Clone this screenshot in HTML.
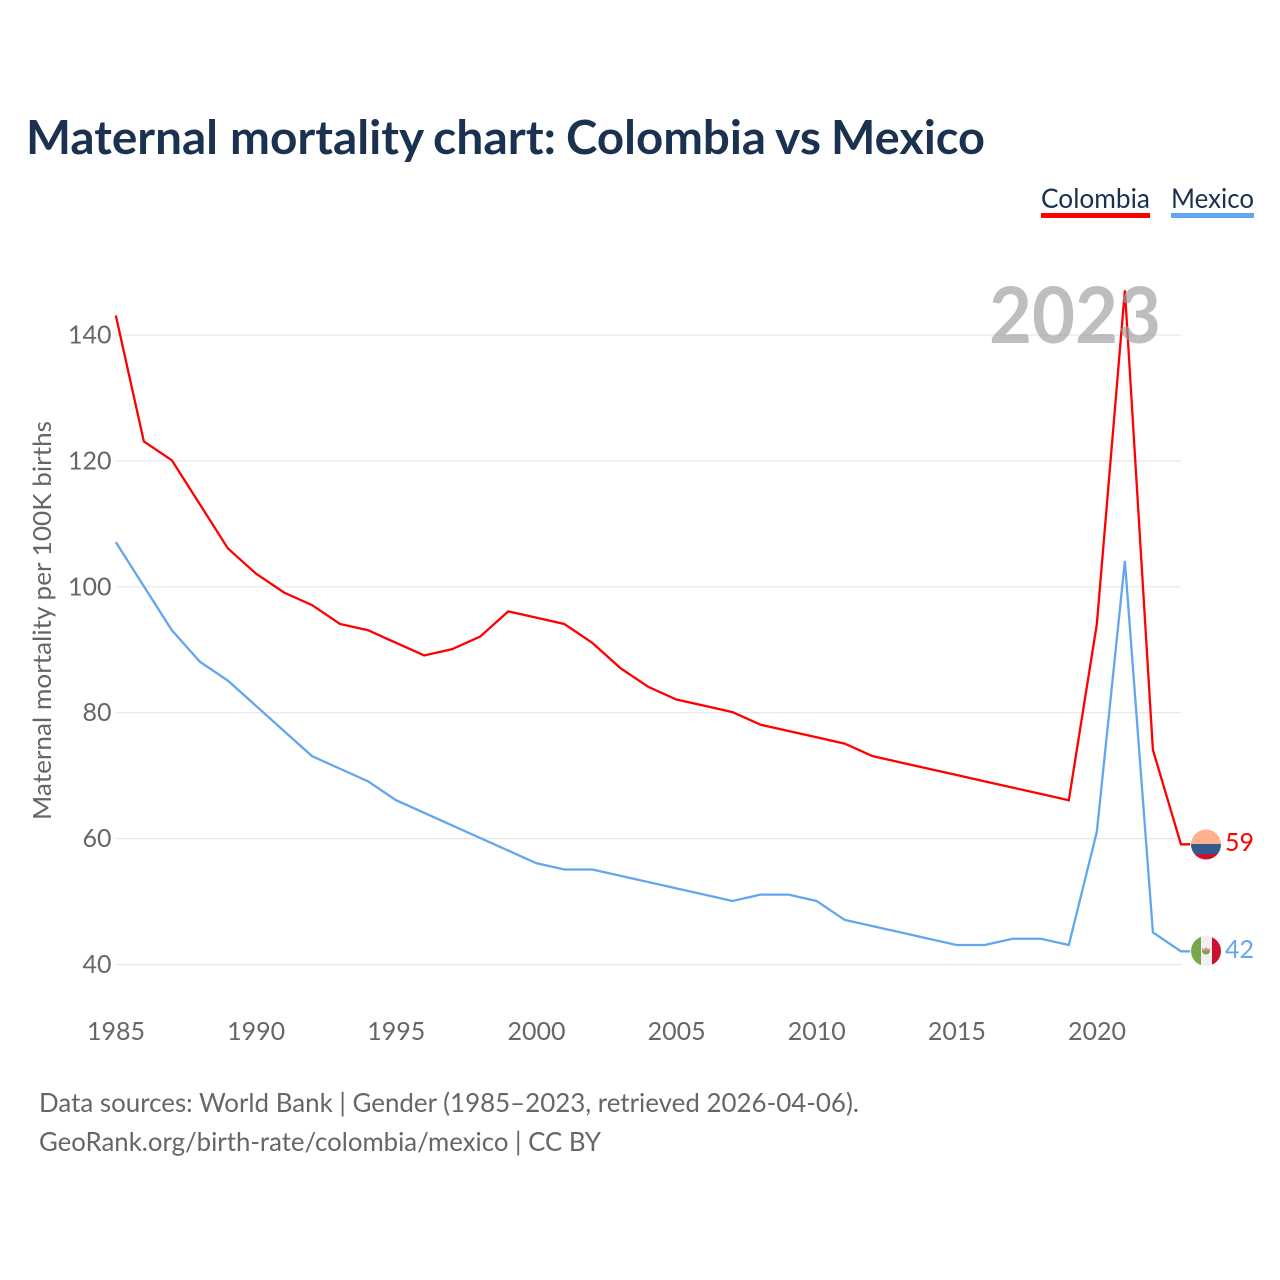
<!DOCTYPE html>
<html lang="en">
<head>
<meta charset="utf-8">
<title>Maternal mortality chart: Colombia vs Mexico</title>
<style>
html,body{margin:0;padding:0;background:#fff;width:1280px;height:1280px;overflow:hidden}
svg{display:block}
text{font-family:"Lato","Carlito","Liberation Sans",sans-serif}
</style>
</head>
<body>
<svg id="chart" width="1280" height="1280" viewBox="0 0 1280 1280" xmlns="http://www.w3.org/2000/svg">
  <defs>
    <clipPath id="clip-co"><circle cx="1206" cy="844.5" r="15"></circle></clipPath>
    <clipPath id="clip-mx"><circle cx="1206" cy="951" r="15"></circle></clipPath>
  </defs>
  <text y="154" font-size="47" font-weight="700" fill="#1a3150"><tspan x="26" textLength="192" lengthAdjust="spacingAndGlyphs">Maternal</tspan> <tspan x="230" textLength="193" lengthAdjust="spacingAndGlyphs">mortality</tspan> <tspan x="433" textLength="123" lengthAdjust="spacingAndGlyphs">chart:</tspan> <tspan x="566" textLength="200" lengthAdjust="spacingAndGlyphs">Colombia</tspan> <tspan x="775" textLength="46" lengthAdjust="spacingAndGlyphs">vs</tspan> <tspan x="831" textLength="154" lengthAdjust="spacingAndGlyphs">Mexico</tspan></text>

  <g>
    <g>
      <text x="1041" y="208" font-size="27" fill="#1a3150" textLength="109" lengthAdjust="spacingAndGlyphs">Colombia</text>
      <rect x="1041" y="213" width="109" height="5" fill="#ff0000"></rect>
    </g>
    <g>
      <text x="1171" y="208" font-size="27" fill="#1a3150" textLength="83" lengthAdjust="spacingAndGlyphs">Mexico</text>
      <rect x="1171" y="213" width="83" height="5" fill="#62a6ee"></rect>
    </g>
  </g>

  <g id="grid"></g>
  <g id="y-ticks"></g>
  <g id="x-ticks"></g>
  <text transform="translate(51,620.5) rotate(-90)" text-anchor="middle" font-size="25" fill="#666666" textLength="399" lengthAdjust="spacingAndGlyphs">Maternal mortality per 100K births</text>

  <g id="series"></g>

  <text x="989" y="343" font-size="78" font-weight="700" fill="#9a9b9d" fill-opacity="0.65" textLength="172" lengthAdjust="spacingAndGlyphs">2023</text>

  <g id="flag-colombia" clip-path="url(#clip-co)">
    <rect x="1190" y="829" width="32" height="15" fill="#ffb18f"></rect>
    <rect x="1190" y="844" width="32" height="10" fill="#36598f"></rect>
    <rect x="1190" y="854" width="32" height="8" fill="#ce1030"></rect>
  </g>
  <g id="flag-mexico" clip-path="url(#clip-mx)">
    <rect x="1190" y="935" width="11" height="32" fill="#78a84a"></rect>
    <rect x="1201" y="935" width="11" height="32" fill="#f1f1f1"></rect>
    <rect x="1212" y="935" width="10" height="32" fill="#ce1030"></rect>
    <path d="M1202 948 l2 1.5 l2 -2.5 l2 2.5 l2 -1.5 v3 h-8 z" fill="#e8836b"></path>
    <path d="M1202 951 a4 3.5 0 0 0 8 0 z" fill="#6fa35a"></path>
  </g>
  <text id="end-label-colombia" x="1225" y="851" font-size="25.5" fill="#ff0000" textLength="29" lengthAdjust="spacingAndGlyphs"></text>
  <text id="end-label-mexico" x="1225" y="958" font-size="25.5" fill="#62a6ee" textLength="29" lengthAdjust="spacingAndGlyphs"></text>

  <text x="39" y="1112" font-size="26" fill="#666666" textLength="820" lengthAdjust="spacingAndGlyphs">Data sources: World Bank | Gender (1985–2023, retrieved 2026-04-06).</text>
  <text x="39" y="1151" font-size="26" fill="#666666" textLength="562" lengthAdjust="spacingAndGlyphs">GeoRank.org/birth-rate/colombia/mexico | CC BY</text>
</svg>
<script>
const years = [1985,1986,1987,1988,1989,1990,1991,1992,1993,1994,1995,1996,1997,1998,1999,2000,2001,2002,2003,2004,2005,2006,2007,2008,2009,2010,2011,2012,2013,2014,2015,2016,2017,2018,2019,2020,2021,2022,2023];
const colombia = [143,123,120,113,106,102,99,97,94,93,91,89,90,92,96,95,94,91,87,84,82,81,80,78,77,76,75,73,72,71,70,69,68,67,66,94,147,74,59];
const mexico = [107,100,93,88,85,81,77,73,71,69,66,64,62,60,58,56,55,55,54,53,52,51,50,51,51,50,47,46,45,44,43,43,44,44,43,61,104,45,42];
const yTickValues = [40,60,80,100,120,140];
const xTickValues = [1985,1990,1995,2000,2005,2010,2015,2020];

const NS = 'http://www.w3.org/2000/svg';
function xScale(year){ return 116 + (year - 1985) * 28.03; }
function yScale(v){ return 964.5 - (v - 40) * 6.295; }
function make(tag, attrs, parent){
  const el = document.createElementNS(NS, tag);
  for (const k in attrs) el.setAttribute(k, attrs[k]);
  parent.appendChild(el);
  return el;
}

const grid = document.getElementById('grid');
const yTicks = document.getElementById('y-ticks');
const xTicks = document.getElementById('x-ticks');
const seriesGroup = document.getElementById('series');

yTickValues.forEach(function(v){
  const line = make('line', {x1:116, x2:1181, y1:yScale(v), y2:yScale(v), stroke:'#e6e6e6', 'stroke-width':1.2}, grid);
  
  
  const t = make('text', {x:111.5, y:yScale(v)+8.5, 'text-anchor':'end', 'font-size':25, fill:'#666666'}, yTicks);
  
  
  t.textContent = v;
});

xTickValues.forEach(function(y){
  const t = make('text', {x:xScale(y), y:1040, 'text-anchor':'middle', 'font-size':25, fill:'#666666'}, xTicks);
  
  
  t.textContent = y;
});

function drawSeries(values, color, name){
  const last = values.length - 1;
  const pts = values.map(function(v, i){ return (xScale(years[i]) - 0.2).toFixed(2) + ',' + (yScale(v) - 0.6).toFixed(2); });
  pts.push((xScale(years[last]) + 9).toFixed(2) + ',' + (yScale(values[last]) - 0.6).toFixed(2));
  const line = make('polyline', {points:pts.join(' '), fill:'none', stroke:color, 'stroke-width':2.3, 'stroke-linejoin':'miter'}, seriesGroup);
  
  
}
drawSeries(mexico, '#62a6ee', 'line-mexico');
drawSeries(colombia, '#ff0000', 'line-colombia');

function placeEnd(labelId, values){
  const v = values[values.length - 1];
  const cy = yScale(v);
  const label = document.getElementById(labelId);
  label.textContent = v;
  label.setAttribute('y', cy + 6.2);
}
placeEnd('end-label-colombia', colombia);
placeEnd('end-label-mexico', mexico);
</script>
</body>
</html>
